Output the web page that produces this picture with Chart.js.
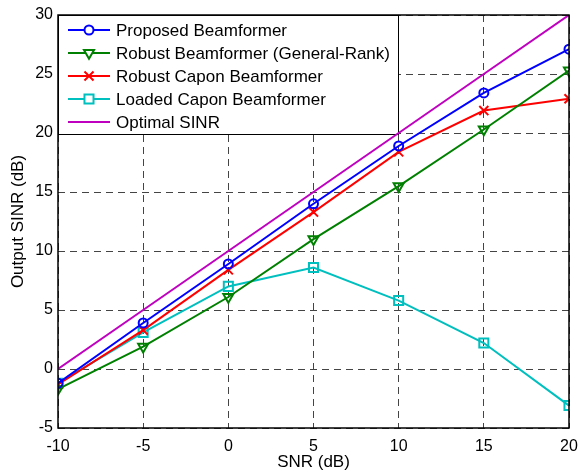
<!DOCTYPE html>
<html>
<head>
<meta charset="utf-8">
<script src="https://cdn.jsdelivr.net/npm/chart.js@4/dist/chart.umd.min.js"></script>
<style>
  html, body { margin: 0; padding: 0; background: #fff; }
  #wrap { width: 579px; height: 476px; }
</style>
</head>
<body>
<div id="wrap"><canvas id="c" width="579" height="476"></canvas></div>
<script>
// SNR (dB) on the x axis
const snr = [-10, -5, 0, 5, 10, 15, 20];

// output SINR (dB) per method
const proposed    = [-1.2, 3.9, 8.9, 14.0, 18.9, 23.4, 27.1];
const robustGR    = [-1.7, 1.9, 6.1, 11.0, 15.5, 20.3, 25.3];
const robustCapon = [-1.3, 3.3, 8.4, 13.3, 18.4, 21.9, 22.9];
const loadedCapon = [-1.2, 3.1, 7.0, 8.6, 5.8, 2.2, -3.1];
const optimal     = [0, 5, 10, 15, 20, 25, 30];

const xTicks = [-10, -5, 0, 5, 10, 15, 20];
const yTicks = [-5, 0, 5, 10, 15, 20, 25, 30];

const FONT = 'Liberation Sans, Arial, Helvetica, sans-serif';

const pts = arr => arr.map((v, i) => ({ x: snr[i], y: v }));

function series(label, values, color, style, radius, rotation) {
  return {
    label,
    data: pts(values),
    borderColor: color,
    backgroundColor: 'rgba(0,0,0,0)',
    borderWidth: 2,
    pointStyle: style,
    pointRadius: radius,
    pointRotation: rotation || 0,
    pointBorderWidth: 2,
    pointBorderColor: color,
    pointBackgroundColor: 'rgba(0,0,0,0)',
    tension: 0,
  };
}

const datasets = [
  series('Proposed Beamformer', proposed, '#0000ff', 'circle', 4.5),
  series('Robust Beamformer (General-Rank)', robustGR, '#008000', 'triangle', 5.8, 180),
  series('Robust Capon Beamformer', robustCapon, '#ff0000', 'crossRot', 6.4),
  series('Loaded Capon Beamformer', loadedCapon, '#00bfbf', 'rect', 6.4),
  series('Optimal SINR', optimal, '#bf00bf', false, 0),
];

// box around the plot + legend drawn inside the top-left corner
const frame = {
  id: 'frame',
  beforeDatasetsDraw(chart) {
    const { ctx, chartArea: a } = chart;
    const w = 340, h = 119;
    ctx.save();
    ctx.fillStyle = '#fff';
    ctx.fillRect(a.left, a.top, w, h);
    ctx.strokeStyle = '#000';
    ctx.lineWidth = 1;
    ctx.strokeRect(a.left + 0.5, a.top + 0.5, w, h);
    ctx.font = '17px ' + FONT;
    ctx.textBaseline = 'middle';
    chart.data.datasets.forEach((ds, i) => {
      const y = a.top + 15 + i * 23;
      const x0 = a.left + 10, x1 = a.left + 52;
      ctx.strokeStyle = ds.borderColor;
      ctx.lineWidth = 2;
      ctx.beginPath();
      ctx.moveTo(x0, y);
      ctx.lineTo(x1, y);
      ctx.stroke();
      if (ds.pointStyle) {
        ctx.fillStyle = '#fff';
        Chart.helpers.drawPoint(ctx, {
          pointStyle: ds.pointStyle,
          radius: ds.pointRadius,
          rotation: ds.pointRotation,
          borderWidth: 2,
        }, (x0 + x1) / 2, y);
      }
      ctx.fillStyle = '#000';
      ctx.fillText(ds.label, a.left + 58, y + 1);
    });
    ctx.restore();
  },
  afterDraw(chart) {
    const { ctx, chartArea: a } = chart;
    ctx.save();
    ctx.strokeStyle = '#000';
    ctx.lineWidth = 1.5;
    ctx.strokeRect(a.left, a.top, a.right - a.left, a.bottom - a.top);
    ctx.restore();
  }
};

new Chart(document.getElementById('c'), {
  type: 'line',
  data: { datasets },
  plugins: [frame],
  options: {
    responsive: false,
    animation: false,
    layout: { padding: { left: 0, right: 10, top: 15, bottom: 0 } },
    plugins: { legend: { display: false }, tooltip: { enabled: false } },
    scales: {
      x: {
        type: 'linear',
        min: -10, max: 20,
        afterBuildTicks: ax => { ax.ticks = xTicks.map(v => ({ value: v })); },
        afterFit: ax => { ax.height = 48; ax.paddingLeft = 0; ax.paddingRight = 0; },
        grid: { color: '#444', drawTicks: false, lineWidth: 1 },
        border: { display: false, dash: [7, 5] },
        ticks: { color: '#000', font: { family: FONT, size: 16 }, padding: 9, maxRotation: 0 },
        title: { display: true, text: 'SNR (dB)', color: '#000', font: { family: FONT, size: 17 }, padding: { top: 0, bottom: 3 } },
      },
      y: {
        min: -5, max: 30,
        afterBuildTicks: ax => { ax.ticks = yTicks.map(v => ({ value: v })); },
        afterFit: ax => { ax.width = 58; ax.paddingTop = 0; ax.paddingBottom = 0; },
        grid: { color: '#444', drawTicks: false, lineWidth: 1 },
        border: { display: false, dash: [7, 5] },
        ticks: { color: '#000', font: { family: FONT, size: 16 }, padding: 5 },
        title: { display: true, text: 'Output SINR (dB)', color: '#000', font: { family: FONT, size: 17 }, padding: { top: 8, bottom: 0 } },
      }
    }
  }
});
</script>
</body>
</html>
